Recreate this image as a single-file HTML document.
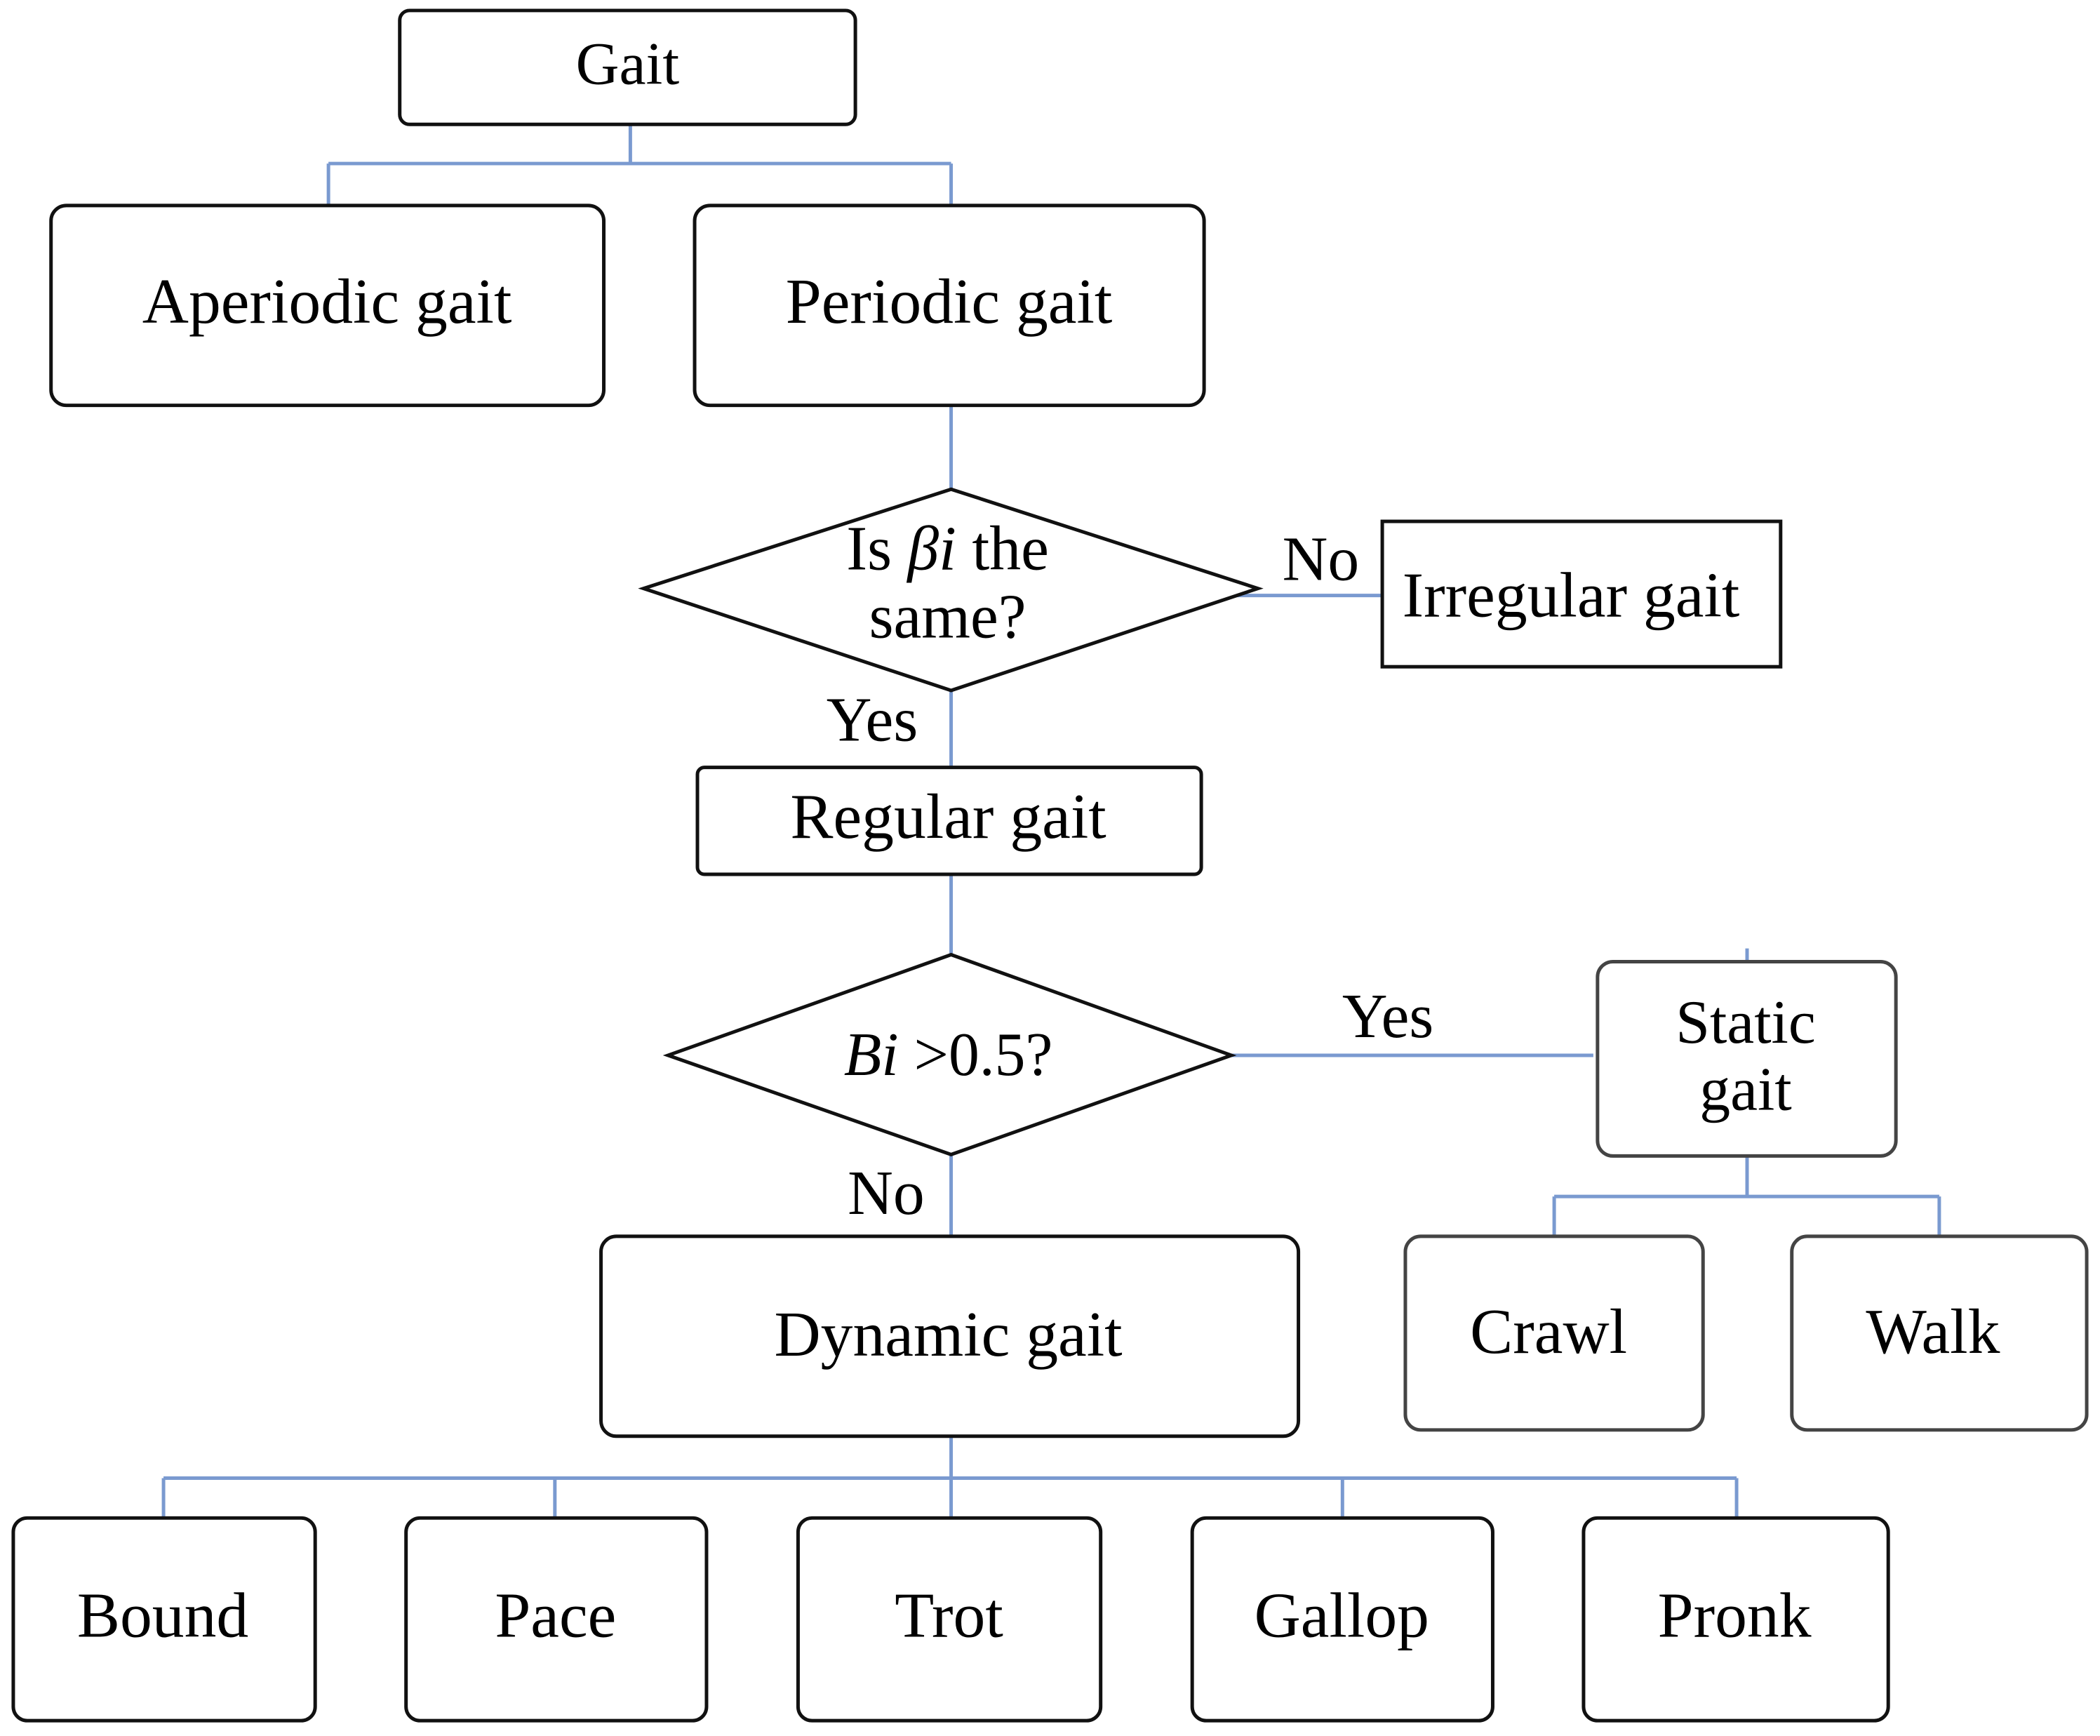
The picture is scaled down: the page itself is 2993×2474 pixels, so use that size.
<!DOCTYPE html>
<html><head><meta charset="utf-8"><style>html,body{margin:0;padding:0;background:#fff}svg{display:block}</style></head>
<body>
<svg width="2993" height="2474" viewBox="0 0 2993 2474" xmlns="http://www.w3.org/2000/svg" font-family="Liberation Serif, serif" fill="none">
<g transform="scale(0.996)">
<g stroke="#7a9ad0" stroke-width="5">
<path d="M902 178V234M470 234H1361M470 234V294M1361 234V294"/>
<path d="M1361 580V700M1361 988V1098M1361 1251V1366M1361 1652V1769"/>
<path d="M1765 852H1978M1762 1510H2280M2500 1357V1376"/>
<path d="M2500 1654V1712M2224 1712H2775M2224 1712V1769M2775 1712V1769"/>
<path d="M1361 2055V2115M234 2115H2485M234 2115V2172M794 2115V2172M1361 2115V2172M1921 2115V2172M2485 2115V2172"/>
</g>
<g stroke="#111" stroke-width="5" fill="#fff">
<rect x="572" y="15" width="652" height="163" rx="14"/>
<rect x="73" y="294" width="791" height="286" rx="22"/>
<rect x="994" y="294" width="729" height="286" rx="22"/>
<polygon points="921,842 1361,700 1800,842 1361,988"/>
<rect x="1978" y="746" width="570" height="208"/>
<rect x="998" y="1098" width="721" height="153" rx="10"/>
<polygon points="956,1510 1361,1366 1762,1510 1361,1652"/>
<rect x="2286" y="1376" width="427" height="278" rx="22" stroke="#444"/>
<rect x="2011" y="1769" width="426" height="277" rx="22" stroke="#444"/>
<rect x="2564" y="1769" width="422" height="277" rx="22" stroke="#444"/>
<rect x="860" y="1769" width="998" height="286" rx="22"/>
<rect x="19" y="2172" width="432" height="290" rx="20"/>
<rect x="581" y="2172" width="430" height="290" rx="20"/>
<rect x="1142" y="2172" width="433" height="290" rx="20"/>
<rect x="1706" y="2172" width="430" height="290" rx="20"/>
<rect x="2266" y="2172" width="436" height="290" rx="20"/>
</g>
<g fill="#000" font-size="92" text-anchor="middle">
<text x="898" y="120" font-size="86">Gait</text>
<text x="468" y="462">Aperiodic gait</text>
<text x="1358" y="462">Periodic gait</text>
<text x="1356" y="815" font-size="90">Is <tspan font-style="italic">βi</tspan> the</text>
<text x="1356" y="912" font-size="90">same?</text>
<text x="1890" y="830" font-size="90">No</text>
<text x="2248" y="882">Irregular gait</text>
<text x="1248" y="1060" font-size="90">Yes</text>
<text x="1357" y="1199">Regular gait</text>
<text x="1357" y="1538" font-size="88"><tspan font-style="italic">Bi</tspan> &gt;0.5?</text>
<text x="1986" y="1484" font-size="90">Yes</text>
<text x="2498" y="1492" font-size="88">Static</text>
<text x="2498" y="1588" font-size="88">gait</text>
<text x="1268" y="1737" font-size="90">No</text>
<text x="1357" y="1940">Dynamic gait</text>
<text x="2216" y="1936">Crawl</text>
<text x="2766" y="1936">Walk</text>
<text x="233" y="2342">Bound</text>
<text x="795" y="2342">Pace</text>
<text x="1358" y="2342">Trot</text>
<text x="1920" y="2342">Gallop</text>
<text x="2482" y="2342">Pronk</text>
</g>
</g>
</svg>
</body></html>
